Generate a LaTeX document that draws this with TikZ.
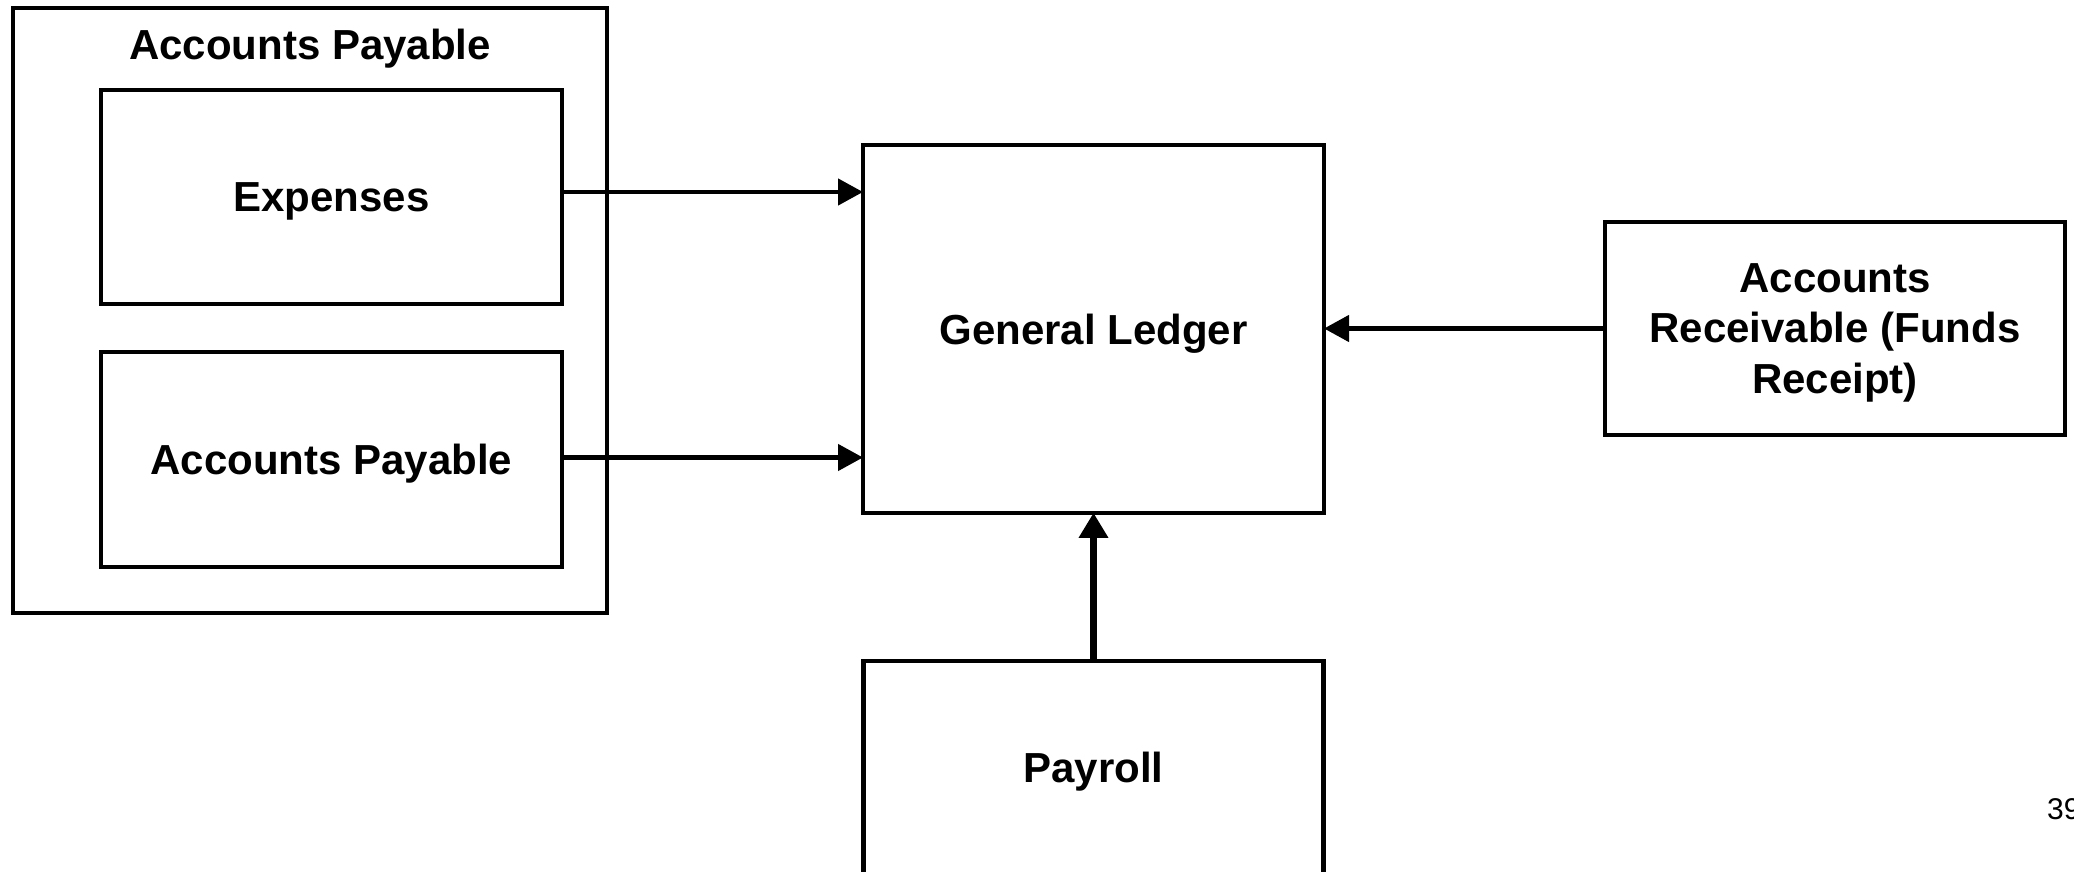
\documentclass[tikz,border=0pt]{standalone}
\usepackage{fontspec}
\setmainfont{Liberation Sans}
\usetikzlibrary{arrows.meta}
\tikzset{
  box/.style={draw, line width=4.5pt, inner sep=0pt, outer sep=0pt, align=center,
    text depth=0pt, font=\bfseries\fontsize{42}{50.5}\selectfont},
  arr/.style={line width=4.5pt, -{Triangle[length=25pt,width=26pt]}},
  thickarr/.style={line width=7pt, -{Triangle[length=25pt,width=28pt]}}
}
\begin{document}
\begin{tikzpicture}[x=1pt,y=-1pt]
\useasboundingbox (0,0) rectangle (2074,872);
\clip (0,0) rectangle (2074,872);
\fill[white] (0,0) rectangle (2074,872);
\node[box, minimum width=594pt, minimum height=605pt] (outer) at (310,310.5) {};
\node[anchor=base, font=\bfseries\fontsize{42}{50.5}\selectfont] (title) at (310,59.5) {Accounts Payable};
\node[box, minimum width=461pt, minimum height=214pt] (exp) at (331.5,197) {Expenses};
\node[box, minimum width=461pt, minimum height=215pt] (ap) at (331.5,459.5) {Accounts Payable};
\node[box, minimum width=461pt, minimum height=368pt] (gl) at (1093.5,328.8) {General Ledger};
\node[box, minimum width=460pt, minimum height=213pt] (ar) at (1835,328.5) {Accounts\\Receivable (Funds\\Receipt)};
\node[box, minimum width=460pt, minimum height=213pt] (pay) at (1093.5,767.5) {Payroll};
\node[anchor=base west, font=\fontsize{30}{36}\selectfont, inner sep=0pt] (num) at (2047,819) {39};
\draw[arr] ([yshift=5pt]exp.east) -- ([yshift=5pt]exp.east -| gl.west);
\draw[arr] ([yshift=2pt]ap.east) -- ([yshift=2pt]ap.east -| gl.west);
\draw[arr] (ar.west) -- (ar.west -| gl.east);
\draw[thickarr] (pay.north) -- (gl.south);
\end{tikzpicture}
\end{document}
